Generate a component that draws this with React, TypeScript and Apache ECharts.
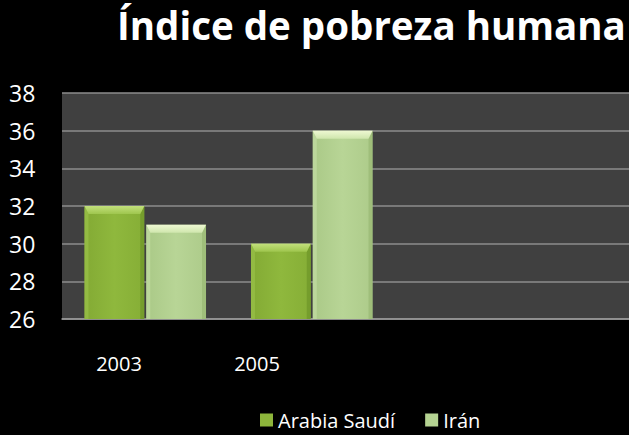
import React, { useEffect, useRef } from "react";
import * as echarts from "echarts";

const categories = ["2003", "2005", "", ""];
const labelCategories = ["2003", "2005", "", ""];
const arabiaSaudi = [32, 30];
const iran = [31, 36];
const yTicks = { min: 26, max: 38, interval: 2 };
const seriesNames = ["Arabia Saudí", "Irán"];

const FONT = "'Open Sans', 'Noto Sans', sans-serif";

const palettes = [
  { body: ["#83aa34", "#8fb83d", "#86ae36"], top: ["#c2e07c", "#9fc64e"], left: "#9dc44c", right: "#6e9628", legend: "#8db53b" },
  { body: ["#aac987", "#b8d596", "#adcb8a"], top: ["#eef8d2", "#cfe6ad"], left: "#c7e0a8", right: "#98b874", legend: "#b5d392" },
];

const CAT_GAP = 0.27;

function makeRender(seriesIdx: number) {
  const p = palettes[seriesIdx];
  return (params: any, api: any) => {
    const idx = api.value(0);
    const val = api.value(1);
    const band = api.size([1, 0])[0];
    const groupW = band * (1 - CAT_GAP);
    const barW = groupW / 2;
    const c = api.coord([idx, val]);
    const base = api.coord([idx, yTicks.min]);
    const x0 = c[0] - groupW / 2 + seriesIdx * (barW + 1);
    const w = barW - 1;
    const top = c[1];
    const bottom = base[1];
    const bt = 8;
    const bs = 4;
    return {
      type: "group",
      children: [
        {
          type: "rect",
          shape: { x: x0, y: top, width: w, height: bottom - top },
          style: {
            fill: new echarts.graphic.LinearGradient(0, 0, 1, 0, [
              { offset: 0, color: p.body[0] },
              { offset: 0.5, color: p.body[1] },
              { offset: 1, color: p.body[2] },
            ]),
          },
        },
        {
          type: "polygon",
          shape: { points: [[x0, top], [x0 + bs, top + bt], [x0 + bs, bottom], [x0, bottom]] },
          style: { fill: p.left, opacity: 0.6 },
        },
        {
          type: "polygon",
          shape: { points: [[x0 + w, top], [x0 + w - bs, top + bt], [x0 + w - bs, bottom], [x0 + w, bottom]] },
          style: { fill: p.right, opacity: 0.7 },
        },
        {
          type: "polygon",
          shape: { points: [[x0, top], [x0 + w, top], [x0 + w - bs, top + bt], [x0 + bs, top + bt]] },
          style: {
            fill: new echarts.graphic.LinearGradient(0, 0, 0, 1, [
              { offset: 0, color: p.top[0] },
              { offset: 1, color: p.top[1] },
            ]),
          },
        },
      ],
    };
  };
}

export default function App() {
  const ref = useRef<HTMLDivElement>(null);
  useEffect(() => {
    if (!ref.current) return;
    const chart = echarts.init(ref.current, null, { renderer: "svg" });
    chart.setOption({
      animation: false,
      backgroundColor: "#000000",
      title: {
        text: "Índice de pobreza humana",
        left: 112,
        top: 0,
        textStyle: {
          color: "#ffffff",
          fontFamily: FONT,
          fontWeight: "bold",
          fontSize: 38.5,
        },
      },
      legend: {
        data: seriesNames,
        left: 255,
        top: 405,
        icon: "rect",
        itemWidth: 13,
        itemHeight: 13,
        itemGap: 30,
        textStyle: { color: "#ffffff", fontFamily: FONT, fontSize: 20 },
      },
      grid: [
        {
          left: 62, width: 666, top: 93, bottom: 116,
          containLabel: false, outerBoundsMode: "none",
          show: true, backgroundColor: "#404040", borderWidth: 0,
        },
        {
          left: 50, width: 552, top: 93, bottom: 116,
          containLabel: false, outerBoundsMode: "none", show: false,
        },
      ],
      xAxis: [
        {
          type: "category",
          gridIndex: 0,
          data: categories,
          axisLine: { show: true, lineStyle: { color: "#9a9a9a", width: 1.5 } },
          axisTick: { show: false },
          axisLabel: { show: false },
        },
        {
          type: "category",
          gridIndex: 1,
          data: labelCategories,
          axisLine: { show: false },
          axisTick: { show: false },
          axisLabel: { color: "#ffffff", fontFamily: FONT, fontSize: 20, margin: 34 },
        },
      ],
      yAxis: [
        {
          type: "value",
          gridIndex: 0,
          min: yTicks.min,
          max: yTicks.max,
          interval: yTicks.interval,
          axisLine: { show: false },
          axisTick: { show: false },
          splitLine: { lineStyle: { color: "#8c8c8c", width: 1.5 } },
          axisLabel: {
            color: "#ffffff",
            fontFamily: FONT,
            fontSize: 23,
            align: "left",
            margin: 53,
          },
        },
        {
          type: "value",
          gridIndex: 1,
          show: false,
          min: yTicks.min,
          max: yTicks.max,
        },
      ],
      series: [arabiaSaudi, iran].map((vals, s) => ({
        name: seriesNames[s],
        type: "custom",
        xAxisIndex: 0,
        yAxisIndex: 0,
        encode: { x: 0, y: 1 },
        itemStyle: { color: palettes[s].legend },
        data: vals.map((v, i) => [i, v]),
        renderItem: makeRender(s),
      })),
    });
    return () => chart.dispose();
  }, []);
  return (
    <div
      ref={ref}
      style={{ position: "fixed", left: 0, top: 0, width: 629, height: 435, background: "#000" }}
    />
  );
}
